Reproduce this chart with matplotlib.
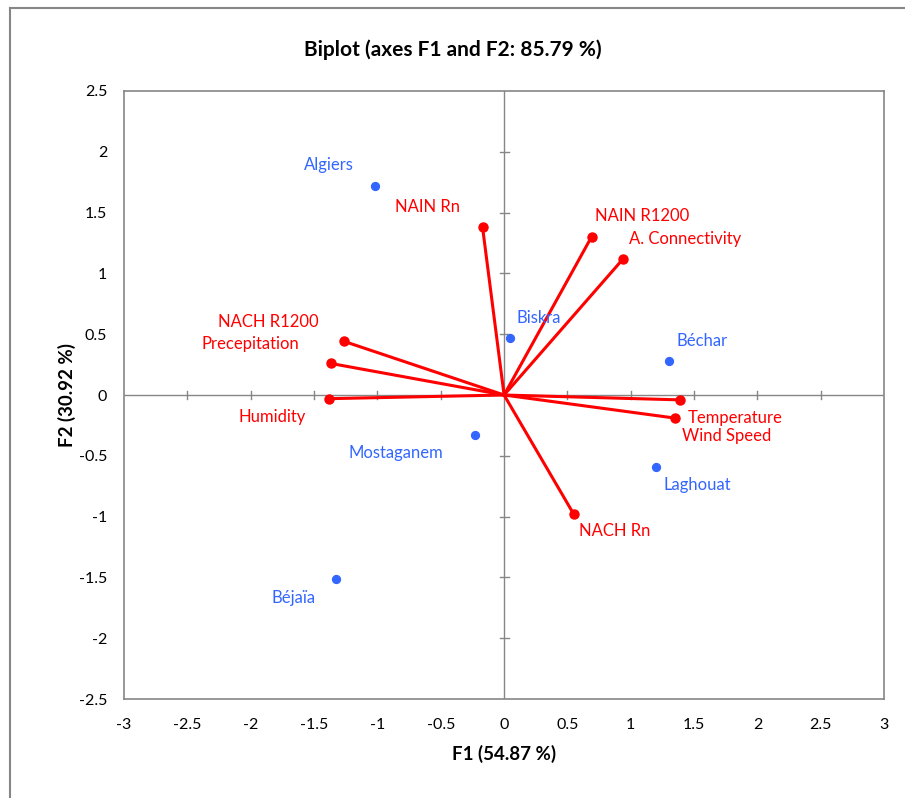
import matplotlib.pyplot as plt
from matplotlib.lines import Line2D

plt.rcParams['font.family'] = ['Lato', 'DejaVu Sans']

# observations (F1, F2)
cities = ['Algiers', 'Biskra', 'Béchar', 'Mostaganem', 'Laghouat', 'Béjaïa']
city_f1 = [-1.02, 0.05, 1.30, -0.23, 1.20, -1.33]
city_f2 = [1.72, 0.47, 0.28, -0.33, -0.59, -1.51]
city_off = [(-46, 21), (28, 20), (33, 20), (-79, -18), (41, -18), (-42, -19)]

# variables (F1, F2)
variables = ['NAIN Rn', 'NAIN R1200', 'A. Connectivity', 'NACH R1200', 'Precepitation',
             'Humidity', 'Temperature', 'Wind Speed', 'NACH Rn']
var_f1 = [-0.17, 0.69, 0.94, -1.26, -1.37, -1.38, 1.39, 1.35, 0.55]
var_f2 = [1.38, 1.30, 1.12, 0.44, 0.26, -0.03, -0.04, -0.19, -0.98]
var_off = [(-55, 20), (51, 21), (62, 20), (-76, 19), (-80, 19),
           (-57, -18), (55, -18), (51, -18), (41, -17)]

xticks = [-3, -2.5, -2, -1.5, -1, -0.5, 0, 0.5, 1, 1.5, 2, 2.5, 3]
yticks = [-2.5, -2, -1.5, -1, -0.5, 0, 0.5, 1, 1.5, 2, 2.5]

blue = '#3366FF'
red = '#FF0000'
grey = '#868686'

fig = plt.figure(figsize=(9.05, 7.98), dpi=100)
ax = fig.add_axes([0.137, 0.124, 0.840, 0.762])

# zero lines with small cross ticks
ax.axhline(0, color=grey, lw=1, zorder=1)
ax.axvline(0, color=grey, lw=1, zorder=1)
for t in xticks[1:-1]:
    if t != 0:
        ax.plot([t, t], [-0.035, 0.035], color=grey, lw=1, zorder=1)
for t in yticks[1:-1]:
    if t != 0:
        ax.plot([-0.035, 0.035], [t, t], color=grey, lw=1, zorder=1)

# variable vectors
for x, y, name, off in zip(var_f1, var_f2, variables, var_off):
    ax.plot([0, x], [0, y], color=red, lw=2.2, zorder=3)
    ax.plot(x, y, 'o', color=red, ms=6.5, zorder=4)
    ax.annotate(name, (x, y), xytext=off, textcoords='offset pixels',
                ha='center', va='center', color=red, fontsize=12)

# observations
ax.scatter(city_f1, city_f2, color=blue, s=32, zorder=5)
for x, y, name, off in zip(city_f1, city_f2, cities, city_off):
    ax.annotate(name, (x, y), xytext=off, textcoords='offset pixels',
                ha='center', va='center', color=blue, fontsize=12)

ax.set_xlim(-3, 3)
ax.set_ylim(-2.5, 2.5)
ax.set_xticks(xticks)
ax.set_yticks(yticks)
ax.set_xticklabels([f'{t:g}' for t in xticks])
ax.set_yticklabels([f'{t:g}' for t in yticks])
ax.tick_params(length=0, labelsize=11.5, pad=14)
ax.tick_params(axis='y', pad=12)
for s in ax.spines.values():
    s.set_color(grey)
    s.set_linewidth(1.2)

ax.set_xlabel('F1 (54.87 %)', fontsize=13.5, fontweight='bold', labelpad=9)
ax.set_ylabel('F2 (30.92 %)', fontsize=13.5, fontweight='bold', labelpad=2)
fig.suptitle('Biplot (axes F1 and F2: 85.79 %)', fontsize=15, fontweight='bold', y=0.95)

# outer chart border (top and left visible)
fig.add_artist(Line2D([0.011, 1], [0.99, 0.99], color=grey, lw=1.5, transform=fig.transFigure))
fig.add_artist(Line2D([0.011, 0.011], [0, 0.99], color=grey, lw=1.5, transform=fig.transFigure))

fig.savefig('out.png', dpi=100)
